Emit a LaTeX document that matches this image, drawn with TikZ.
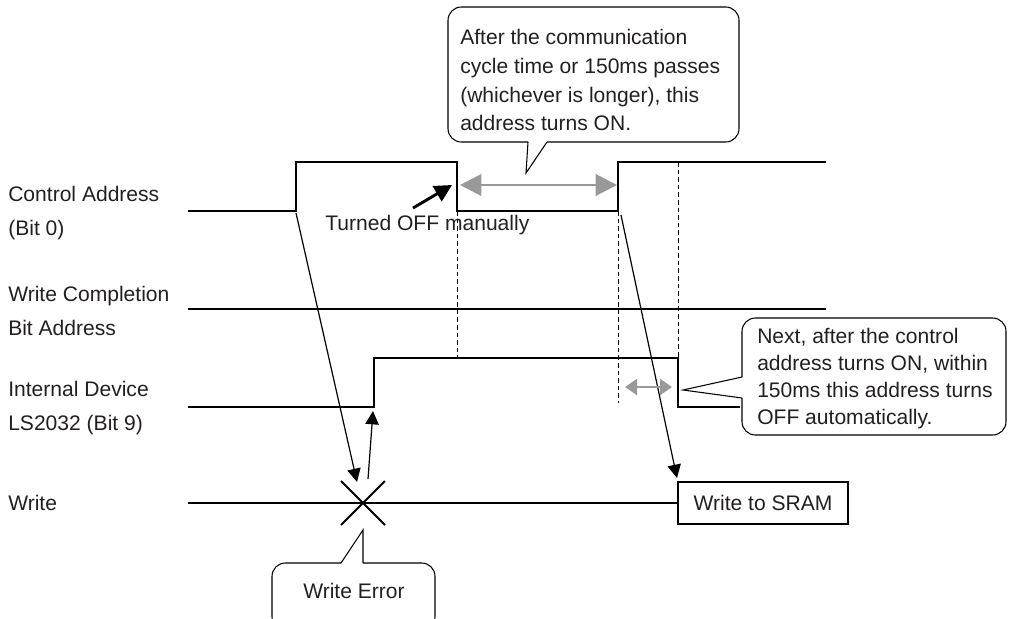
\documentclass[tikz,border=0pt]{standalone}
\usepackage{fontspec}
\setmainfont{Liberation Sans}
\usetikzlibrary{arrows.meta}
\definecolor{txt}{HTML}{231F20}
\definecolor{garr}{HTML}{999999}
\begin{document}
\begin{tikzpicture}[x=0.75pt,y=-0.75pt,
 sig/.style={line width=1.9pt, line join=miter},
 thinsig/.style={line width=1.3pt},
 dashv/.style={line width=0.75pt, dash pattern=on 3.5pt off 2.2pt},
 arr/.style={line width=0.9pt, -{Triangle[length=10pt,width=10pt]}},
 bigarr/.style={line width=2.2pt, -{Triangle[length=13pt,width=13pt]}},
 garrow/.style={draw=garr, line width=2.2pt, {Triangle[length=16pt,width=16pt]}-{Triangle[length=16pt,width=16pt]}},
 sgarrow/.style={draw=garr, line width=1.6pt, {Triangle[length=9pt,width=12pt]}-{Triangle[length=9pt,width=12pt]}},
 lbl/.style={font=\fontsize{15.8}{25.5}\selectfont, text=txt, align=left, inner sep=0},
 note/.style={font=\fontsize{15.8}{21.6}\selectfont, text=txt, align=left, inner sep=0},
 note2/.style={font=\fontsize{15.8}{20.3}\selectfont, text=txt, align=left, inner sep=0},
 callout/.style={line width=0.8pt, rounded corners=10pt},
 ptr/.style={line width=0.8pt, line join=miter},
]
\useasboundingbox (0,0) rectangle (1010,618);

% left labels
\node[lbl, anchor=west] (lca) at (8,213) {Control Address\\(Bit 0)};
\node[lbl, anchor=west] (lwc) at (8,311) {Write Completion\\Bit Address};
\node[lbl, anchor=west] (lid) at (8,408) {Internal Device\\LS2032 (Bit 9)};
\node[lbl, anchor=west] (lwr) at (8,503) {Write};

% signals
\draw[sig] (188,211) -- (296,211) -- (296,162) -- (457,162) -- (457,211) -- (618,211) -- (618,162) -- (826,162);
\draw[thinsig] (188,309) -- (826,309);
\draw[sig] (188,407) -- (374,407) -- (374,358) -- (678,358) -- (678,407) -- (740,407);

% write to SRAM box and write line
\node[draw, line width=1.8pt, minimum width=127.5pt, minimum height=31.5pt, inner sep=0,
      font=\fontsize{15.8}{19}\selectfont, text=txt] (sram) at (763,503) {Write to SRAM};
\draw[thinsig] (188,503) -- (sram.west);

% dashed guides
\draw[dashv] (457,211) -- (457,358);
\draw[dashv] (618,211) -- (618,403);
\draw[dashv] (678,162) -- (678,358);

% X mark
\coordinate (xm) at (363,503);
\draw[line width=1.5pt] ([shift={(-22,-22)}]xm) -- ([shift={(22,22)}]xm)
                        ([shift={(-22,22)}]xm) -- ([shift={(22,-22)}]xm);

% connector coordinates
\coordinate (r1) at (296,213);
\coordinate (x1) at (357,482);
\coordinate (x2) at (368,479);
\coordinate (r2) at (373,411);
\coordinate (r3) at (621,215);
\coordinate (s1) at (677,478);
\coordinate (m1) at (413,208);
\coordinate (m2) at (452,185);
\coordinate (g1) at (460,185);
\coordinate (g2) at (617,185);
\coordinate (h1) at (625,387);
\coordinate (h2) at (672,387);

\draw[arr] (r1) -- (x1);
\draw[arr] (x2) -- (r2);
\draw[arr] (r3) -- (s1);
\draw[bigarr] (m1) -- (m2);
\draw[garrow] (g1) -- (g2);
\draw[sgarrow] (h1) -- (h2);

\node[lbl, anchor=base west] (toff) at (325,230) {Turned OFF manually};

% callout 1
\draw[callout] (528,142) -- (448,142) -- (448,7) -- (739,7) -- (739,142) -- (547,142);
\draw[ptr] (528,142) -- (526,173) -- (547,142);
\node[note, anchor=north west] (n1) at (460,29) {After the communication\\cycle time or 150ms passes\\(whichever is longer), this\\address turns ON.};

% callout 2
\draw[callout] (742,377) -- (742,318) -- (1006,318) -- (1006,435) -- (742,435) -- (742,398);
\draw[ptr] (742,377) -- (683,390) -- (742,398);
\node[note2, anchor=north west] (n2) at (757,328) {Next, after the control\\address turns ON, within\\150ms this address turns\\OFF automatically.};

% callout 3
\draw[callout] (341,563) -- (272,563) -- (272,630) -- (435,630) -- (435,563) -- (363,563);
\draw[ptr] (363,563) -- (363,530) -- (341,563);
\node[lbl, anchor=base] (n3) at (354,598) {Write Error};
\end{tikzpicture}
\end{document}
